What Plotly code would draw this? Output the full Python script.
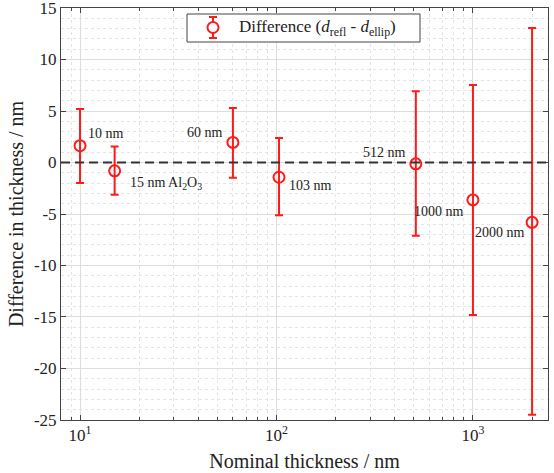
import numpy as np
import plotly.graph_objects as go

thickness = [10, 15, 60, 103, 512, 1000, 2000]
difference = [1.63, -0.81, 1.95, -1.43, -0.13, -3.63, -5.81]
upper = [5.2, 1.56, 5.29, 2.37, 6.91, 7.53, 13.05]
lower = [-2.0, -3.12, -1.49, -5.13, -7.1, -14.8, -24.5]
labels = ["10 nm", "15 nm Al<sub>2</sub>O<sub>3</sub>", "60 nm", "103 nm", "512 nm", "1000 nm", "2000 nm"]
y_ticks = [-25, -20, -15, -10, -5, 0, 5, 10, 15]
y_ticktext = ["-25", "-20", "-15", "-10", "-5", "0", "5", "10", "15"]
x_ticks = [10, 100, 1000]
x_ticktext = ["10<sup>1</sup>", "10<sup>2</sup>", "10<sup>3</sup>"]
legend_text = "Difference (<i>d</i><sub>refl</sub> - <i>d</i><sub>ellip</sub>)"

err_plus = [u - d for u, d in zip(upper, difference)]
err_minus = [d - l for d, l in zip(difference, lower)]

RED = "#ff1a1a"
FONT = "Liberation Serif"
TXT = "#222222"
W, H = 554, 473
ML, MR, MT, MB = 61, 6, 8, 53
PW, PH = W - ML - MR, H - MT - MB


def px_x(p):
    return (p - ML) / PW


def px_y(p):
    return 1 - (p - MT) / PH


fig = go.Figure()
fig.add_trace(go.Scatter(
    x=thickness, y=difference, mode="markers", showlegend=False,
    marker=dict(symbol="circle-open", size=11, color=RED, line=dict(width=2, color=RED)),
    error_y=dict(type="data", symmetric=False, array=err_plus, arrayminus=err_minus,
                 color=RED, thickness=2, width=4),
))

fig.add_hline(y=0, line=dict(color="#333333", width=2, dash="9px,5px"), layer="above")

# label placement: (xanchor, xshift, yshift)
place = [("left", 6, 12), ("left", 13, -13), ("right", -8, 10), ("left", 8, -8),
         ("right", -8, 11), ("right", -7, -12), ("right", -5, -10)]
for xv, yv, txt, (xa, xs, ys) in zip(thickness, difference, labels, place):
    fig.add_annotation(x=np.log10(xv), y=yv, text=txt, showarrow=False,
                       xanchor=xa, yanchor="middle", xshift=xs, yshift=ys,
                       font=dict(family=FONT, size=14, color=TXT))

# manual legend (box, error-bar symbol, text)
fig.add_shape(type="rect", xref="paper", yref="paper",
              x0=px_x(187), x1=px_x(420), y0=px_y(42), y1=px_y(14),
              line=dict(color="#444444", width=1), fillcolor="white", layer="above")
lx, ly = px_x(213), px_y(27.5)
fig.add_shape(type="line", xref="paper", yref="paper", xsizemode="pixel", ysizemode="pixel",
              xanchor=lx, yanchor=ly, x0=0, x1=0, y0=-10.5, y1=10.5,
              line=dict(color=RED, width=2), layer="above")
for yy in (-10.5, 10.5):
    fig.add_shape(type="line", xref="paper", yref="paper", xsizemode="pixel", ysizemode="pixel",
                  xanchor=lx, yanchor=ly, x0=-4, x1=4, y0=yy, y1=yy,
                  line=dict(color=RED, width=2), layer="above")
fig.add_shape(type="circle", xref="paper", yref="paper", xsizemode="pixel", ysizemode="pixel",
              xanchor=lx, yanchor=ly, x0=-5.5, x1=5.5, y0=-5.5, y1=5.5,
              line=dict(color=RED, width=2), fillcolor="white", layer="above")
fig.add_annotation(xref="paper", yref="paper", x=px_x(237), y=ly, text=legend_text,
                   showarrow=False, xanchor="left", yanchor="middle",
                   font=dict(family=FONT, size=17, color=TXT))

axis_common = dict(
    showline=True, linecolor="#444444", linewidth=1, mirror="ticks",
    ticks="inside", tickcolor="#444444", ticklen=5,
    showgrid=True, gridcolor="#dddddd", gridwidth=1,
    zeroline=False, automargin=False, ticklabeloverflow="allow",
    tickfont=dict(family=FONT, size=17, color=TXT),
)

fig.update_xaxes(
    type="log", range=[np.log10(8.0), np.log10(2410)],
    tickvals=x_ticks, ticktext=x_ticktext,
    minor=dict(ticks="inside", ticklen=3, tickcolor="#444444", dtick="D1",
               showgrid=True, gridcolor="#e4e4e4", griddash="dot"),
    title=dict(text="Nominal thickness / nm", font=dict(family=FONT, size=20, color=TXT), standoff=9),
    **axis_common,
)
fig.update_yaxes(
    range=[-25.001, 15.001], tickvals=y_ticks, ticktext=y_ticktext,
    minor=dict(dtick=1, ticks="", showgrid=True, gridcolor="#e4e4e4", griddash="dot"),
    title=dict(text="Difference in thickness / nm", font=dict(family=FONT, size=20, color=TXT), standoff=4),
    **axis_common,
)

fig.update_layout(
    width=W, height=H,
    font=dict(family=FONT, size=16, color=TXT),
    margin=dict(l=ML, r=MR, t=MT, b=MB, autoexpand=False),
    plot_bgcolor="white", paper_bgcolor="white",
    showlegend=False,
)

fig.write_html("out.html", config={"displayModeBar": False},
               post_script="document.body.style.margin='0';")
